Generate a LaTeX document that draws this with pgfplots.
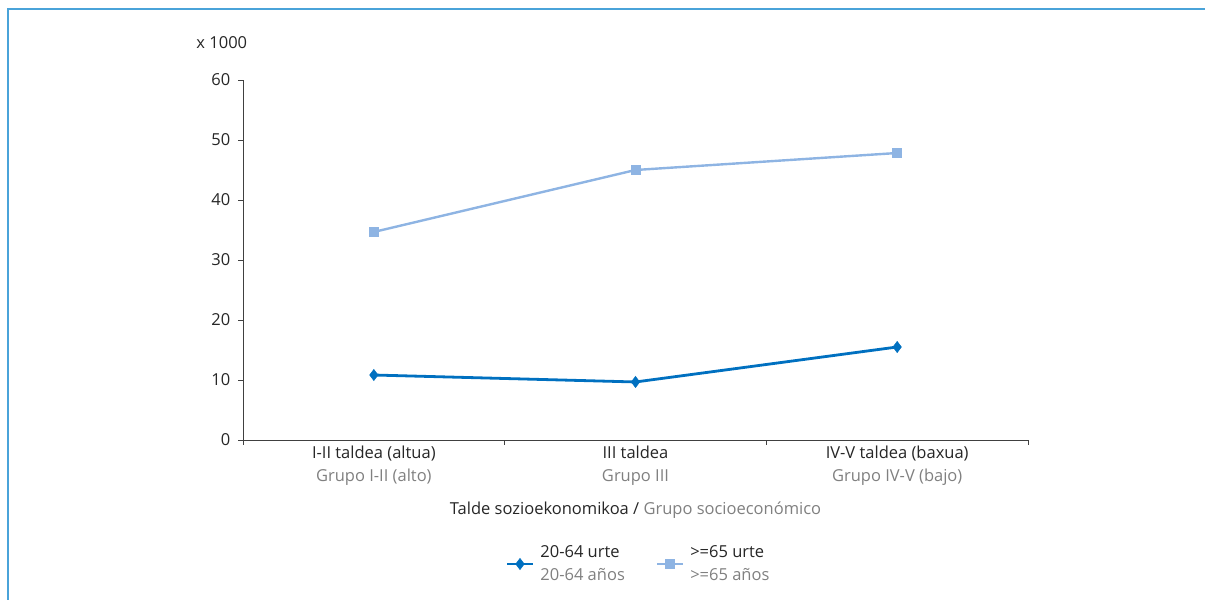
\documentclass[border=0pt]{standalone}
\usepackage{fontspec}
\setmainfont{Open Sans}
\usepackage{pgfplots}
\pgfplotsset{compat=1.18}

\definecolor{darkline}{RGB}{0,112,192}
\definecolor{lightline}{RGB}{142,180,227}
\definecolor{framecol}{RGB}{74,163,217}
\definecolor{axiscol}{RGB}{64,64,64}
\definecolor{txt}{RGB}{38,38,38}
\definecolor{subtxt}{RGB}{128,128,128}

\begin{document}
\fontsize{16.5bp}{19bp}\selectfont
\begin{tikzpicture}[x=1bp,y=1bp]
\useasboundingbox (0,0) rectangle (1205,600);
% panel frame
\draw[framecol, line width=2bp] (8,0) -- (8,590.5) -- (1205,590.5);

\begin{axis}[
  at={(243bp,160bp)}, anchor=south west,
  scale only axis, width=785bp, height=360bp,
  xmin=-0.5, xmax=2.5, ymin=0, ymax=60,
  axis x line*=bottom, axis y line*=left,
  axis line style={axiscol, line width=0.9bp},
  xtick={-0.5,0.5,1.5,2.5},
  xticklabels={},
  extra x ticks={0,1,2},
  extra x tick style={major tick length=0pt},
  extra x tick labels={
    {I-II taldea (altua)\\\textcolor{subtxt}{Grupo I-II (alto)}},
    {III taldea\\\textcolor{subtxt}{Grupo III}},
    {IV-V taldea (baxua)\\\textcolor{subtxt}{Grupo IV-V (bajo)}}},
  xticklabel style={align=center, font=\fontsize{16.5bp}{23bp}\selectfont, text=txt, yshift=0bp},
  ytick={0,10,...,60},
  yticklabel style={text=txt, xshift=-2bp},
  /pgf/number format/assume math mode=true,
  tick style={axiscol, line width=0.9bp},
  major tick length=5bp,
  tick align=outside,
  xlabel={Talde sozioekonomikoa / \textcolor{subtxt}{Grupo socioeconómico}},
  xlabel style={text=txt, at={(axis description cs:0.5,0)}, anchor=center, yshift=-70bp},
  legend style={at={(axis description cs:0.5,0)}, anchor=center, yshift=-124bp, xshift=3bp,
    draw=none, fill=none, legend columns=2,
    cells={align=left, font=\fontsize{16.5bp}{23bp}\selectfont, text=txt},
    /tikz/every odd column/.append style={column sep=4bp},
    /tikz/every even column/.append style={column sep=29bp}},
  legend cell align=left,
  legend image code/.code={%
    \draw[mark repeat=2, mark phase=2, #1]
      plot coordinates {(0bp,0bp) (13bp,0bp) (26bp,0bp)};},
  clip=false,
]
\addplot[darkline, line width=2.8bp, mark=diamond*, mark size=5.6bp,
  mark options={fill=darkline, draw=darkline, line width=0.5bp}]
  coordinates {(0,10.83) (1,9.67) (2,15.5)};
\addlegendentry{20-64 urte\\\textcolor{subtxt}{20-64 años}}
\addplot[lightline, line width=2.4bp, mark=square*, mark size=4.5bp,
  mark options={fill=lightline, draw=lightline, line width=0.5bp}]
  coordinates {(0,34.67) (1,45.0) (2,47.83)};
\addlegendentry{>=65 urte\\\textcolor{subtxt}{>=65 años}}
\node[text=txt, anchor=center] at (axis description cs:-0.027,1.105) {x 1000};
\end{axis}
\end{tikzpicture}
\end{document}
